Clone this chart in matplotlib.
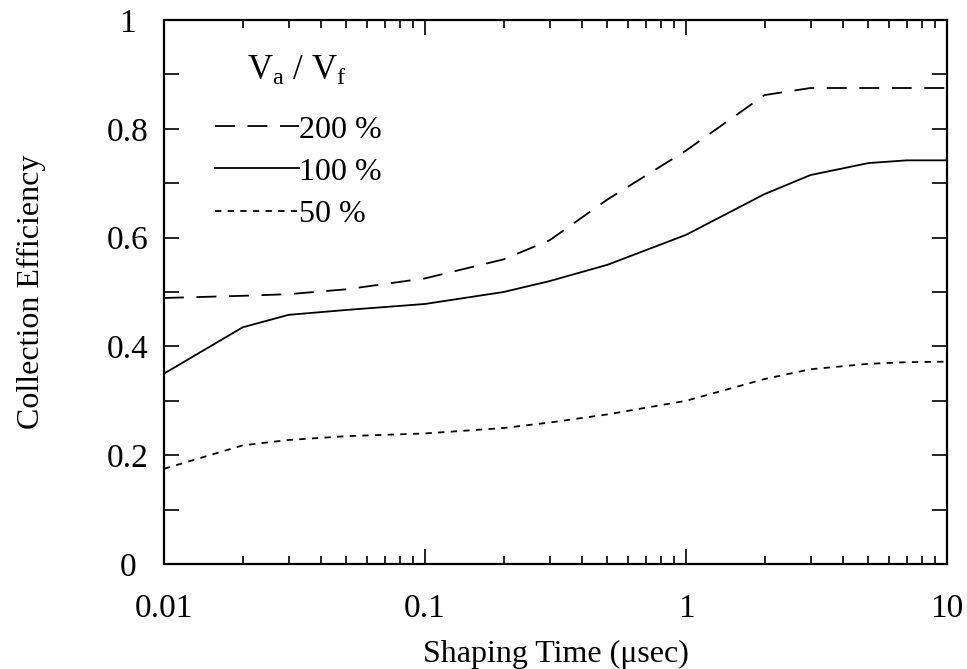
import numpy as np
import matplotlib
matplotlib.use("Agg")
import matplotlib.pyplot as plt
from matplotlib.ticker import FixedLocator, NullFormatter, LogLocator

plt.rcParams['font.family'] = ['Liberation Serif', 'DejaVu Serif']
plt.rcParams['mathtext.fontset'] = 'custom'
plt.rcParams['mathtext.rm'] = 'Liberation Serif'
plt.rcParams['mathtext.it'] = 'Liberation Serif'

# shaping time in usec
shaping_time = [0.01, 0.02, 0.03, 0.05, 0.1, 0.2, 0.3, 0.5, 1, 2, 3, 5, 7, 10]

# collection efficiency for each Va/Vf ratio
eff_200 = [0.489, 0.493, 0.496, 0.505, 0.525, 0.560, 0.595, 0.670, 0.760, 0.862, 0.875, 0.875, 0.875, 0.875]
eff_100 = [0.350, 0.435, 0.458, 0.467, 0.478, 0.500, 0.520, 0.550, 0.605, 0.680, 0.715, 0.737, 0.742, 0.742]
eff_50 = [0.175, 0.218, 0.228, 0.235, 0.240, 0.250, 0.260, 0.275, 0.300, 0.340, 0.358, 0.368, 0.371, 0.372]

series_labels = ["200 %", "100 %", "50 %"]

fig = plt.figure(figsize=(9.67, 6.69), dpi=100)
ax = fig.add_axes([164 / 967, 1 - 564 / 669, 783 / 967, 544 / 669])

lw = 1.3
ax.plot(shaping_time, eff_200, color="black", lw=lw, dashes=(11, 7), label=series_labels[0])
ax.plot(shaping_time, eff_100, color="black", lw=lw, label=series_labels[1])
ax.plot(shaping_time, eff_50, color="black", lw=lw, dashes=(3.5, 3.5), label=series_labels[2])

ax.set_xscale("log")
ax.set_xlim(0.01, 10)
ax.set_ylim(0, 1)

ax.set_xticks([0.01, 0.1, 1, 10])
ax.set_xticklabels(["0.01", "0.1", "1", "10"])
ax.xaxis.set_minor_locator(LogLocator(base=10, subs=np.arange(2, 10)))
ax.xaxis.set_minor_formatter(NullFormatter())

ax.yaxis.set_major_locator(FixedLocator(np.round(np.arange(0, 1.01, 0.1), 1)))
ax.set_yticklabels(["0", "", "0.2", "", "0.4", "", "0.6", "", "0.8", "", "1"])

ax.tick_params(axis="both", which="both", direction="in", top=True, right=True,
               width=1.2, labelsize=24)
ax.tick_params(axis="x", which="major", length=11, pad=21)
ax.tick_params(axis="x", which="minor", length=6)
ax.tick_params(axis="y", which="major", length=11, pad=26)
for lab in ax.get_yticklabels():
    lab.set_horizontalalignment("center")

for sp in ax.spines.values():
    sp.set_linewidth(1.6)

ax.set_xlabel("Shaping Time (\u03bcsec)", fontsize=23, labelpad=12)
ax.set_ylabel("Collection Efficiency", fontsize=23, labelpad=44)

# legend title placed as text, entries via legend
ax.text(0.170, 0.905, "V$_\\mathregular{a}$ / V$_\\mathregular{f}$", transform=ax.transAxes,
        fontsize=25, ha="center", va="center")
leg = ax.legend(loc="center left", bbox_to_anchor=(0.029, 0.7206), frameon=False,
                fontsize=23, handlelength=2.6, handletextpad=0.0, labelspacing=0.4)

fig.savefig("out.png", dpi=100)
